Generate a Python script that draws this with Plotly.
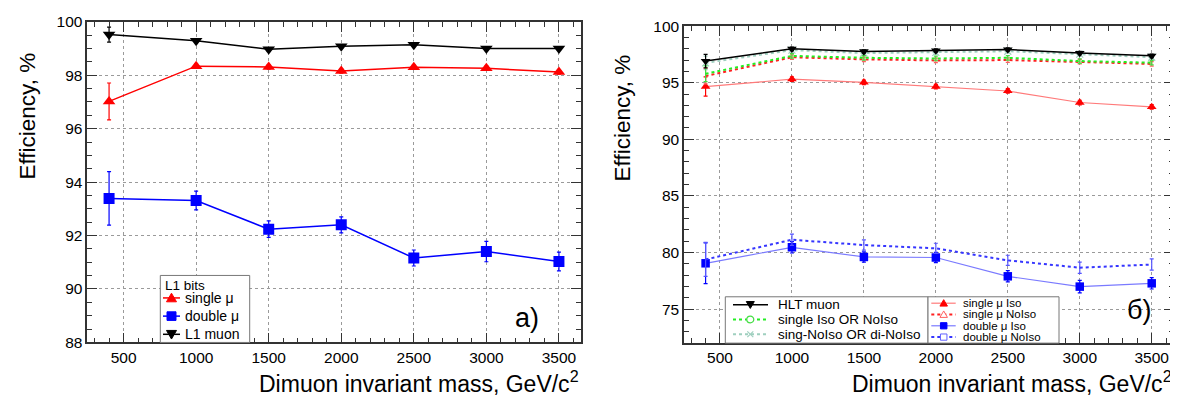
import plotly.graph_objects as go

# ---------------- data ----------------
mass = [400, 1000, 1500, 2000, 2500, 3000, 3500]

# panel a) L1 bits
l1_single = [97.02, 98.34, 98.31, 98.16, 98.30, 98.26, 98.12]
l1_single_err = [0.69, 0.08, 0.08, 0.08, 0.08, 0.08, 0.08]
l1_double = [93.39, 93.31, 92.24, 92.40, 91.16, 91.40, 91.03]
l1_double_err = [1.00, 0.35, 0.31, 0.30, 0.30, 0.38, 0.35]
l1_muon = [99.52, 99.29, 98.97, 99.08, 99.14, 99.00, 99.00]
l1_muon_err = [0.28, 0.06, 0.06, 0.06, 0.06, 0.06, 0.06]

# panel б) HLT
hlt_muon = [96.91, 97.99, 97.76, 97.84, 97.93, 97.62, 97.37]
hlt_muon_err = [0.60, 0.15, 0.15, 0.15, 0.15, 0.15, 0.15]
single_or = [95.79, 97.37, 97.20, 97.14, 97.20, 96.91, 96.77]
single_or_err = [0.70, 0.20, 0.20, 0.20, 0.20, 0.20, 0.20]
sing_di_noiso = [96.75, 97.88, 97.62, 97.68, 97.78, 97.52, 97.25]
sing_di_noiso_err = [0.60, 0.15, 0.15, 0.15, 0.15, 0.15, 0.15]
single_iso = [94.66, 95.31, 95.03, 94.66, 94.27, 93.25, 92.86]
single_iso_err = [0.85, 0.20, 0.20, 0.20, 0.20, 0.20, 0.20]
single_noiso = [95.59, 97.25, 97.06, 96.97, 97.00, 96.86, 96.66]
single_noiso_err = [0.70, 0.20, 0.20, 0.20, 0.20, 0.20, 0.20]
double_iso = [79.05, 80.46, 79.61, 79.56, 77.90, 76.99, 77.28]
double_iso_err = [1.80, 0.50, 0.45, 0.45, 0.50, 0.55, 0.50]
double_noiso = [79.39, 81.13, 80.66, 80.37, 79.31, 78.66, 78.94]
double_noiso_err = [1.50, 0.50, 0.45, 0.45, 0.45, 0.50, 0.50]

x_ticks = [500, 1000, 1500, 2000, 2500, 3000, 3500]

# ---------------- layout helpers ----------------
W, H = 1178, 397
FONT = "Liberation Sans, Arial, Helvetica, sans-serif"


def X(px):
    return px / W


def Y(py):
    return 1 - py / H


fig = go.Figure()


def add(xa, ya, y, err, name, lcolor, mcolor, symbol, msize, dash="solid", lw=1.5,
        ecolor=None, mline=None):
    fig.add_trace(go.Scatter(
        x=mass, y=y, name=name, mode="lines+markers",
        xaxis=xa, yaxis=ya, showlegend=False,
        line=dict(color=lcolor, width=lw, dash=dash),
        marker=dict(symbol=symbol, size=msize, color=mcolor,
                    line=dict(width=1.2 if mline else 0, color=mline or mcolor)),
        error_y=dict(type="data", array=err, color=ecolor or mcolor,
                     thickness=1.2, width=2),
    ))


# panel a)
add("x", "y", l1_double, l1_double_err, "double μ", "#0000ff", "#0000ff", "square", 11)
add("x", "y", l1_single, l1_single_err, "single μ", "#ff0000", "#ff0000", "triangle-up", 11)
add("x", "y", l1_muon, l1_muon_err, "L1 muon", "#000000", "#000000", "triangle-down", 11)

# panel б)
add("x2", "y2", double_iso, double_iso_err, "double μ Iso", "#7a7aff", "#0000ff", "square", 8.5, lw=1.2)
add("x2", "y2", double_noiso, double_noiso_err, "double μ NoIso", "#3535ff", "rgba(0,0,0,0)",
    "square-open", 8.5, dash="dot", lw=2, ecolor="#5555ff", mline="#6060ff")
add("x2", "y2", single_iso, single_iso_err, "single μ Iso", "#ff7a7a", "#ff0000", "triangle-up", 8.5, lw=1.2)
add("x2", "y2", single_noiso, single_noiso_err, "single μ NoIso", "#ff2020", "rgba(0,0,0,0)",
    "triangle-up-open", 8.5, dash="dot", lw=2, ecolor="#ff6060", mline="#ff6060")
add("x2", "y2", sing_di_noiso, sing_di_noiso_err, "sing-NoIso OR di-NoIso", "#9fcfbf", "#9fcfbf",
    "x-thin-open", 7, dash="dot", lw=2, mline="#9fcfbf")
add("x2", "y2", single_or, single_or_err, "single Iso OR NoIso", "#22ee22", "rgba(0,0,0,0)",
    "circle-open", 8.5, dash="dot", lw=2, ecolor="#44dd44", mline="#44dd44")
add("x2", "y2", hlt_muon, hlt_muon_err, "HLT muon", "#000000", "#000000", "triangle-down", 8.5, lw=1.5)

axis_common = dict(
    showline=True, linecolor="#333333", linewidth=1.5, mirror="ticks",
    ticks="inside", ticklen=10, tickwidth=1, tickcolor="#333333",
    showgrid=True, gridcolor="#9a9a9a", griddash="dot", gridwidth=1,
    zeroline=False, tickfont=dict(family=FONT, size=15.5, color="#000000"),
)

xcommon = dict(axis_common, range=[250, 3650], tickvals=x_ticks,
               minor=dict(dtick=100, tick0=0, ticks="inside", ticklen=5, tickcolor="#333333", showgrid=False))

fig.update_layout(
    width=W, height=H,
    margin=dict(l=0, r=0, t=0, b=0),
    paper_bgcolor="white", plot_bgcolor="white",
    font=dict(family=FONT, color="#000000"),
    xaxis=dict(xcommon, domain=[X(79.3), X(572.7)], anchor="y"),
    yaxis=dict(axis_common, domain=[Y(340), Y(5)], anchor="x", range=[88, 100], dtick=2, tick0=0,
               minor=dict(dtick=0.5, tick0=0, ticks="inside", ticklen=5, tickcolor="#333333", showgrid=False)),
    xaxis2=dict(xcommon, domain=[X(676), X(1165.3)], anchor="y2"),
    yaxis2=dict(axis_common, domain=[Y(340.7), Y(9.5)], anchor="x2", range=[72, 100], dtick=5, tick0=0,
                minor=dict(dtick=1, tick0=0, ticks="inside", ticklen=5, tickcolor="#333333", showgrid=False)),
)

annotations = []
shapes = []


def text(px, py, s, size, xanchor="left", yanchor="middle", angle=0):
    annotations.append(dict(x=X(px), y=Y(py), xref="paper", yref="paper", text=s,
                            showarrow=False, xanchor=xanchor, yanchor=yanchor, textangle=angle,
                            font=dict(family=FONT, size=size, color="#000000")))


# axis titles
text(20, 104, "Efficiency, %", 22.5, xanchor="center", yanchor="middle", angle=-90)
text(614, 106, "Efficiency, %", 22.5, xanchor="center", yanchor="middle", angle=-90)
text(573, 381, "Dimuon invariant mass, GeV/c<sup>2</sup>", 23, xanchor="right")
text(1166, 381, "Dimuon invariant mass, GeV/c<sup>2</sup>", 23, xanchor="right")
# panel labels
text(519, 314, "a)", 27, xanchor="center")
text(1131, 306, "б)", 27, xanchor="center")


# legend drawing helpers (decoration, pixel based)
def rect(x0, y0, x1, y1, line="#777777", fill="white", lw=1):
    shapes.append(dict(type="rect", xref="paper", yref="paper", x0=X(x0), x1=X(x1), y0=Y(y1), y1=Y(y0),
                       line=dict(color=line, width=lw), fillcolor=fill, layer="above"))


def seg(x0, x1, y, color, dash="solid", lw=1.5):
    shapes.append(dict(type="line", xref="paper", yref="paper", x0=X(x0), x1=X(x1), y0=Y(y), y1=Y(y),
                       line=dict(color=color, width=lw, dash=dash), layer="above"))


def poly(pts, fill, line, lw=1):
    path = "M " + " L ".join(f"{X(a):.5f},{Y(b):.5f}" for a, b in pts) + " Z"
    shapes.append(dict(type="path", xref="paper", yref="paper", path=path,
                       fillcolor=fill, line=dict(color=line, width=lw), layer="above"))


def tri(cx, cy, s, fill, line, up=True, lw=1):
    h = s * 0.9
    if up:
        pts = [(cx, cy - h * 0.55), (cx - s / 2, cy + h * 0.45), (cx + s / 2, cy + h * 0.45)]
    else:
        pts = [(cx, cy + h * 0.55), (cx - s / 2, cy - h * 0.45), (cx + s / 2, cy - h * 0.45)]
    poly(pts, fill, line, lw)


def sq(cx, cy, s, fill, line, lw=1):
    shapes.append(dict(type="rect", xref="paper", yref="paper", x0=X(cx - s / 2), x1=X(cx + s / 2),
                       y0=Y(cy + s / 2), y1=Y(cy - s / 2), fillcolor=fill,
                       line=dict(color=line, width=lw), layer="above"))


def circ(cx, cy, s, line, lw=1.2):
    shapes.append(dict(type="circle", xref="paper", yref="paper", x0=X(cx - s / 2), x1=X(cx + s / 2),
                       y0=Y(cy + s / 2), y1=Y(cy - s / 2), fillcolor="white",
                       line=dict(color=line, width=lw), layer="above"))


def cross(cx, cy, s, color, lw=1.2):
    r = s / 2
    for a, b in [((cx - r, cy - r), (cx + r, cy + r)), ((cx - r, cy + r), (cx + r, cy - r))]:
        shapes.append(dict(type="line", xref="paper", yref="paper", x0=X(a[0]), y0=Y(a[1]),
                           x1=X(b[0]), y1=Y(b[1]), line=dict(color=color, width=lw), layer="above"))


# legend a)
rect(152.3, 270, 241.7, 340)
text(154.5, 280.5, "L1 bits", 13.5)
rows_a = [(293.5, "single μ", "#ff0000", "tri_up"),
          (312.5, "double μ", "#0000ff", "sq"),
          (331.5, "L1 muon", "#000000", "tri_down")]
for yy, lab, col, g in rows_a:
    seg(155, 172, yy, col, lw=1.5)
    if g == "tri_up":
        tri(163.5, yy, 10, col, col, up=True)
    elif g == "sq":
        sq(163.5, yy, 9, col, col)
    else:
        tri(163.5, yy, 10, col, col, up=False)
    text(174.5, yy, lab, 14)

# legend б) box 1
rect(717.3, 292.3, 920, 340.7)
rows_b1 = [(300.5, "HLT muon", "#000000", "solid", "tri_down"),
           (316, "single Iso OR NoIso", "#22ee22", "dot", "circ"),
           (331.5, "sing-NoIso OR di-NoIso", "#9fcfbf", "dot", "cross")]
for yy, lab, col, dsh, g in rows_b1:
    seg(725, 760, yy, col, dash=dsh, lw=1.5 if dsh == "solid" else 2)
    if g == "tri_down":
        tri(742.3, yy, 8, col, col, up=False)
    elif g == "circ":
        circ(742.3, yy, 7, "#44dd44")
    else:
        cross(742.3, yy, 6, col)
    text(767.5, yy, lab, 13.5)

# legend б) box 2
rect(920, 292.3, 1051, 340.7)
rows_b2 = [(299, "single μ Iso", "#ff7a7a", "solid", "tri_fill", "#ff0000"),
           (310.8, "single μ NoIso", "#ff2020", "dot", "tri_open", "#ff6060"),
           (322.6, "double μ Iso", "#7a7aff", "solid", "sq_fill", "#0000ff"),
           (334.4, "double μ NoIso", "#3535ff", "dot", "sq_open", "#6060ff")]
for yy, lab, col, dsh, g, mcol in rows_b2:
    seg(923.3, 947.7, yy, col, dash=dsh, lw=1.2 if dsh == "solid" else 2)
    if g == "tri_fill":
        tri(935.7, yy, 7.5, mcol, mcol, up=True)
    elif g == "tri_open":
        tri(935.7, yy, 7.5, "white", mcol, up=True)
    elif g == "sq_fill":
        sq(935.7, yy, 6.5, mcol, mcol)
    else:
        sq(935.7, yy, 6.5, "white", mcol)
    text(953.3, yy, lab, 11.5)

fig.update_layout(annotations=annotations, shapes=shapes)

fig.write_html("out.html")
